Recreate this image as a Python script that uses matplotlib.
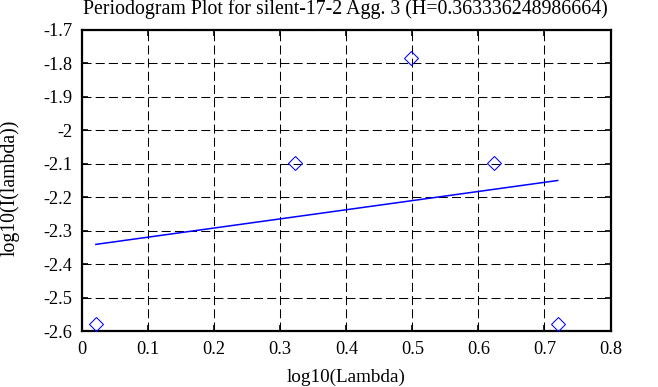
import matplotlib
matplotlib.use('Agg')
import matplotlib.pyplot as plt

# ── data ─────────────────────────────────────────────────────────────────────
log_lambda = [0.021, 0.322, 0.498, 0.623, 0.720]
log_I      = [-2.580, -2.097, -1.785, -2.097, -2.580]

fit_x = [0.021, 0.720]
fit_y = [-2.341, -2.150]

hurst = 0.363336248986664
title = f'Periodogram Plot for silent-17-2 Agg. 3 (H={hurst})'

x_ticks = [0, 0.1, 0.2, 0.3, 0.4, 0.5, 0.6, 0.7, 0.8]
x_labels = ['0', '0.1', '0.2', '0.3', '0.4', '0.5', '0.6', '0.7', '0.8']
y_ticks = [-2.6, -2.5, -2.4, -2.3, -2.2, -2.1, -2.0, -1.9, -1.8, -1.7]
y_labels = ['-2.6', '-2.5', '-2.4', '-2.3', '-2.2', '-2.1', '-2', '-1.9', '-1.8', '-1.7']

plt.rcParams['font.family'] = ['Liberation Serif', 'DejaVu Serif']
plt.rcParams['lines.scale_dashes'] = False

W, H = 658, 387
x0, x1, y0, y1 = 82, 610.5, 30, 331      # axes box in pixels

fig = plt.figure(figsize=(W / 100, H / 100), dpi=100)
ax = fig.add_axes([x0 / W, 1 - y1 / H, (x1 - x0) / W, (y1 - y0) / H])

ax.plot(fit_x, fit_y, color='blue', lw=1.1, zorder=3)
ax.plot(log_lambda, log_I, ls='none', marker='D', ms=7.1, mfc='none',
        mec='blue', mew=0.75, zorder=4, clip_on=False)

ax.set_xlim(0, 0.8)
ax.set_ylim(-2.6, -1.7)
ax.set_xticks(x_ticks)
ax.set_xticklabels(x_labels)
ax.set_yticks(y_ticks)
ax.set_yticklabels(y_labels)

ax.grid(True, color='black', lw=0.75, ls=(0, (6.5, 3.0)))
ax.tick_params(direction='in', length=4.5, width=1.2, top=True, right=True,
               labelsize=13.2, pad=7)
for s in ax.spines.values():
    s.set_linewidth(1.6)

# text placed by pixel centres measured on the reference
fig.text(0.5 * (82 + 608) / W, 1 - 9 / H, title, fontsize=14.3,
         ha='center', va='center')
ax.set_xlabel('log10(Lambda)', fontsize=13.8, va='center')
ax.xaxis.set_label_coords(0.5, (y1 - 377) / (y1 - y0))
ax.set_ylabel('log10(I(lambda))', fontsize=14.2, va='center')
ax.yaxis.set_label_coords((10 - x0) / (x1 - x0), (y1 - 188) / (y1 - y0))

fig.savefig('out.png', dpi=100)
